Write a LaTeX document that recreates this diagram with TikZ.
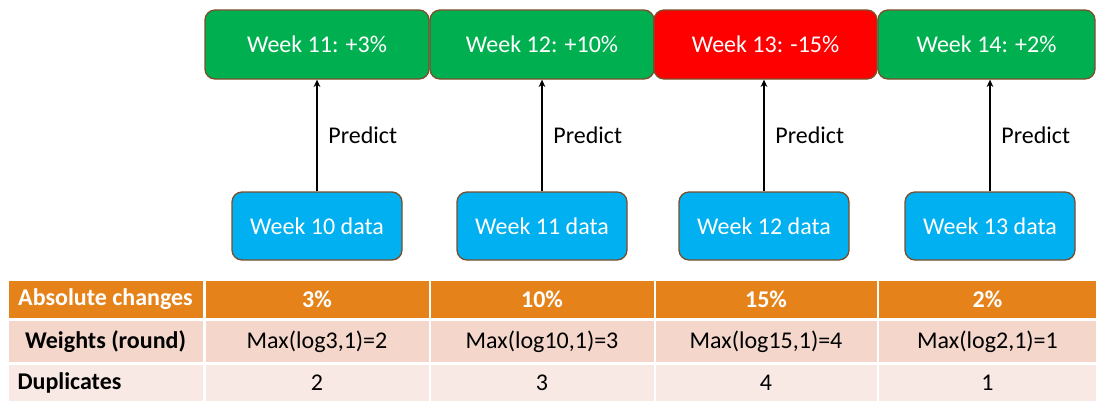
\documentclass[tikz,border=0pt]{standalone}
\usepackage{fontspec}
\setmainfont{Carlito}
\usetikzlibrary{arrows.meta}
\newdimen\upx \upx=0.75pt
\definecolor{gbox}{HTML}{00B050}
\definecolor{rbox}{HTML}{FF0000}
\definecolor{bbox}{HTML}{00B0F0}
\definecolor{edgebrown}{HTML}{7A4E2A}
\definecolor{hdr}{HTML}{E5831A}
\definecolor{rowa}{HTML}{F4D6CB}
\definecolor{rowb}{HTML}{F9E9E4}
\tikzset{
  txt/.style={font=\fontsize{18}{21}\selectfont},
  weekbox/.style={txt, draw=edgebrown, line width=1.3\upx, rounded corners=10\upx, text=white, inner sep=0pt},
  topbox/.style={weekbox, minimum height=69\upx},
  databox/.style={weekbox, fill=bbox, minimum width=170\upx, minimum height=68\upx},
  cell/.style={txt, draw=white, line width=2\upx, inner sep=0pt},
  hcell/.style={cell, fill=hdr, text=white, minimum height=39\upx, font=\fontsize{18}{21}\selectfont\bfseries},
  acell/.style={cell, fill=rowa, minimum height=43\upx},
  bcell/.style={cell, fill=rowb, minimum height=38\upx},
  predarrow/.style={line width=1.5pt, -{Stealth[length=5.5pt,width=5pt]}},
  predlabel/.style={txt, anchor=west}
}
\begin{document}
\begin{tikzpicture}[x=0.75pt,y=-0.75pt]
\useasboundingbox (0,0) rectangle (1096,401);
% top boxes
\node[topbox, fill=gbox, minimum width=224\upx] (t1) at (317,44.5) {Week 11: +3\%};
\node[topbox, fill=gbox, minimum width=224\upx] (t2) at (542,44.5) {Week 12: +10\%};
\node[topbox, fill=rbox, minimum width=223\upx] (t3) at (765.5,44.5) {Week 13: -15\%};
\node[topbox, fill=gbox, minimum width=217\upx] (t4) at (986.5,44.5) {Week 14: +2\%};
% data boxes
\node[databox] (b1) at (317,226) {Week 10 data};
\node[databox] (b2) at (542,226) {Week 11 data};
\node[databox] (b3) at (764,226) {Week 12 data};
\node[databox] (b4) at (990,226) {Week 13 data};
% arrows
\draw[predarrow] (b1.north) -- (b1.north |- t1.south) node[pos=0.5, predlabel, xshift=4.5pt] (p1) {Predict};
\draw[predarrow] (b2.north) -- (b2.north |- t2.south) node[pos=0.5, predlabel, xshift=4.5pt] (p2) {Predict};
\draw[predarrow] (b3.north) -- (b3.north |- t3.south) node[pos=0.5, predlabel, xshift=4.5pt] (p3) {Predict};
\draw[predarrow] (b4.north) -- (b4.north |- t4.south) node[pos=0.5, predlabel, xshift=4.5pt] (p4) {Predict};
% table header
\node[hcell, minimum width=196\upx] (h0) at (105.5,299.5) {Absolute changes};
\node[hcell, minimum width=225\upx] (h1) at (317,299.5) {3\%};
\node[hcell, minimum width=225\upx] (h2) at (542,299.5) {10\%};
\node[hcell, minimum width=223\upx] (h3) at (766,299.5) {15\%};
\node[hcell, minimum width=219\upx] (h4) at (987.5,299.5) {2\%};
% weights row
\node[acell, minimum width=196\upx, font=\fontsize{18}{21}\selectfont\bfseries] (w0) at (105.5,341.5) {Weights (round)};
\node[acell, minimum width=225\upx] (w1) at (317,341.5) {Max(log3,1)=2};
\node[acell, minimum width=225\upx] (w2) at (542,341.5) {Max(log10,1)=3};
\node[acell, minimum width=223\upx] (w3) at (766,341.5) {Max(log15,1)=4};
\node[acell, minimum width=219\upx] (w4) at (987.5,341.5) {Max(log2,1)=1};
% duplicates row
\node[bcell, minimum width=196\upx, font=\fontsize{18}{21}\selectfont\bfseries, text width=176\upx, align=left, inner xsep=10\upx] (d0) at (105.5,383) {Duplicates};
\node[bcell, minimum width=225\upx] (d1) at (317,383) {2};
\node[bcell, minimum width=225\upx] (d2) at (542,383) {3};
\node[bcell, minimum width=223\upx] (d3) at (766,383) {4};
\node[bcell, minimum width=219\upx] (d4) at (987.5,383) {1};
\end{tikzpicture}
\end{document}
